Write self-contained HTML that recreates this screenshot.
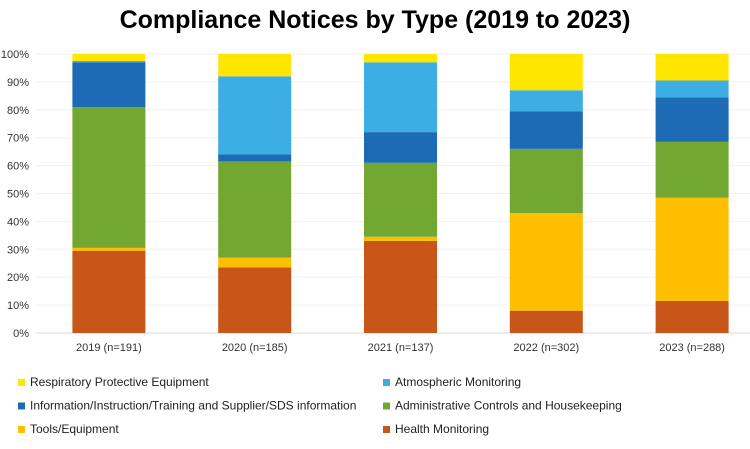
<!DOCTYPE html>
<html><head><meta charset="utf-8"><style>
body{margin:0;background:#fff;width:750px;height:444px;overflow:hidden;font-family:"Liberation Sans",sans-serif}
</style></head><body>
<svg id="c" width="750" height="444">
<text x="375" y="28" text-anchor="middle" font-size="25" font-weight="bold">Compliance Notices by Type (2019 to 2023)</text>
<g id="grid"></g><g id="bars"></g><g id="legend"></g>
</svg>
<script>
const categories=["2019 (n=191)","2020 (n=185)","2021 (n=137)","2022 (n=302)","2023 (n=288)"];
const health=[29.5,23.5,33,8,11.5];
const tools=[1,3.5,1.5,35,37];
const admin=[50.5,34.5,26.5,23,20];
const info=[16,2.5,11,13.5,16];
const atmos=[0.5,28,25,7.5,6];
const resp=[2.5,8,3,13,9.5];
const ticks=["0%","10%","20%","30%","40%","50%","60%","70%","80%","90%","100%"];
const series=[["Health Monitoring",health,"#c85618"],["Tools/Equipment",tools,"#fdbf00"],["Administrative Controls and Housekeeping",admin,"#72a832"],["Information/Instruction/Training and Supplier/SDS information",info,"#1c6bb4"],["Atmospheric Monitoring",atmos,"#3caee3"],["Respiratory Protective Equipment",resp,"#ffe600"]];
const ns="http://www.w3.org/2000/svg";
const y0=333,y1=54,left=36,step=145.8,bw=73;
const y=v=>y0-(v/100)*(y0-y1);
const x=i=>left+step*(i+0.5);
function mk(t,a,p){const e=document.createElementNS(ns,t);for(const k in a)e.setAttribute(k,a[k]);p.appendChild(e);return e;}
const g=document.getElementById('grid');
ticks.forEach((t,i)=>{const v=i*10;
const l=mk('line',{x1:left,x2:750,y1:y(v),y2:y(v),stroke:i==0?'#d9d9d9':'#f0f0f0'},g);


const tx=mk('text',{x:29,y:y(v)+4,'text-anchor':'end','font-size':11,fill:'#333'},g);tx.textContent=t;

});
const b=document.getElementById('bars');
categories.forEach((c,i)=>{let acc=0;
series.forEach(s=>{const v=s[1][i];const r=mk('rect',{x:x(i)-bw/2,y:y(acc+v),width:bw,height:y(acc)-y(acc+v),fill:s[2]},b);

acc+=v;});
const t=mk('text',{x:x(i),y:351,'text-anchor':'middle','font-size':11,fill:'#333'},b);t.textContent=c;

});
const L=document.getElementById('legend');
const order=[5,4,3,2,1,0];
order.forEach((si,k)=>{const s=series[si];const lx=k%2==0?18:383, ly=386+Math.floor(k/2)*23.5;
const r=mk('rect',{x:lx,y:ly-7,width:7,height:7,fill:s[2]},L);


const t=mk('text',{x:lx+12,y:ly,'font-size':12,fill:'#222'},L);t.textContent=s[0];

});
</script>
</body></html>
